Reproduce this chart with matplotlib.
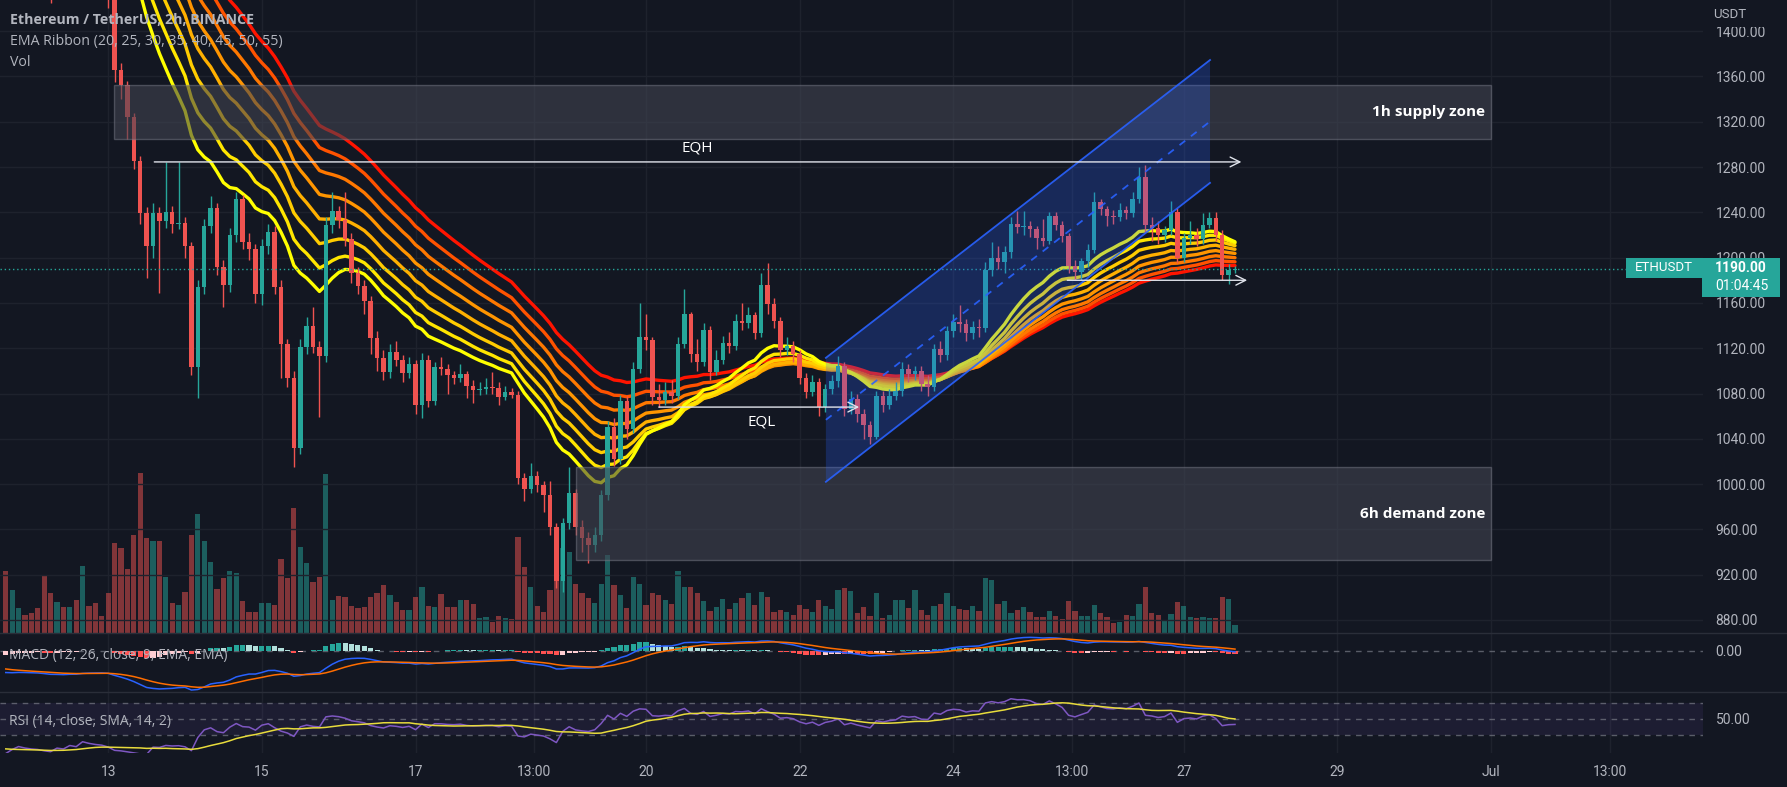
import matplotlib
matplotlib.use("Agg")
import matplotlib.pyplot as plt
from matplotlib.patches import Rectangle, Polygon
import numpy as np
import pandas as pd

plt.rcParams['font.family'] = ['Open Sans', 'DejaVu Sans']

BG = '#131722'
TXT = '#b2b5be'
GRID = '#1e222d'
UP = '#26a69a'
DOWN = '#ef5350'
W, H = 1787, 787

# 2h closes before the first visible bar, only used to warm up the indicators
warmup_close = [1862, 1870, 1875, 1868, 1880, 1872,
                1855, 1840, 1790, 1770, 1800, 1812, 1815, 1820, 1818,
                1808, 1800, 1795, 1790, 1802, 1798, 1785, 1776, 1782, 1790, 1795, 1792,
                1790, 1794, 1798, 1803, 1790, 1786, 1781, 1789, 1794, 1788, 1785, 1790,
                1792, 1788, 1778, 1768, 1748, 1722, 1702, 1690, 1682, 1668, 1664, 1660,
                1655, 1642, 1630, 1618, 1606, 1590, 1578, 1565]

# visible ETHUSDT 2h bars, first bar = index -16 (Jun 11 16:00), index 0 = Jun 13 00:00
close = [1552, 1560, 1566, 1548, 1535, 1527, 1505, 1487, 1495, 1482, 1490, 1476, 1488, 1472, 1460, 1452,
         1428, 1366, 1352, 1324, 1285, 1239, 1210, 1239, 1232, 1240,
         1230, 1231, 1210, 1103, 1174, 1228, 1244, 1192, 1176, 1220,
         1252, 1214, 1208, 1168, 1210, 1223, 1174, 1124, 1094, 1032,
         1121, 1140, 1121, 1113, 1229, 1241, 1233, 1216, 1186, 1175,
         1162, 1129, 1111, 1099, 1117, 1110, 1098, 1106, 1070, 1110,
         1073, 1103, 1102, 1096, 1094, 1097, 1087, 1083, 1084, 1086,
         1085, 1077, 1081, 1079, 1005, 996, 1007, 999, 990, 962,
         914, 966, 992, 962, 952, 946, 955, 990, 1050, 1022,
         1073, 1049, 1102, 1130, 1127, 1077, 1074, 1081, 1078, 1124,
         1150, 1115, 1108, 1136, 1099, 1110, 1125, 1122, 1144, 1142,
         1149, 1133, 1176, 1159, 1144, 1118, 1122, 1115, 1094, 1081,
         1090, 1068, 1084, 1091, 1104, 1066, 1075, 1062, 1052, 1042,
         1078, 1070, 1078, 1082, 1102, 1097, 1100, 1088, 1086, 1119,
         1114, 1135, 1143, 1141, 1133, 1139, 1138, 1189, 1200, 1196,
         1205, 1230, 1227, 1228, 1225, 1217, 1215, 1237, 1229, 1219,
         1193, 1187, 1197, 1207, 1249, 1243, 1237, 1236, 1242, 1239,
         1252, 1271, 1229, 1226, 1220, 1224, 1240, 1200, 1217, 1220,
         1216, 1229, 1235, 1220, 1185, 1189, 1190]

high = [1568, 1566, 1572, 1570, 1552, 1540, 1530, 1508, 1500, 1498, 1494, 1492, 1495, 1490, 1476, 1464,
        1456, 1432, 1372, 1356, 1328, 1290, 1245, 1248, 1245, 1284,
        1246, 1284, 1236, 1214, 1180, 1234, 1254, 1248, 1198, 1226,
        1258, 1255, 1222, 1212, 1216, 1230, 1228, 1180, 1128, 1100,
        1128, 1148, 1156, 1126, 1236, 1258, 1246, 1258, 1222, 1192,
        1180, 1166, 1135, 1118, 1124, 1126, 1114, 1112, 1110, 1116,
        1114, 1108, 1112, 1106, 1100, 1106, 1100, 1092, 1090, 1094,
        1099, 1090, 1087, 1085, 1082, 1010, 1019, 1012, 1003, 1003,
        966, 970, 1015, 996, 968, 958, 962, 995, 1056, 1058,
        1079, 1078, 1108, 1160, 1150, 1130, 1088, 1090, 1092, 1130,
        1172, 1152, 1128, 1142, 1140, 1118, 1131, 1134, 1150, 1160,
        1156, 1152, 1186, 1195, 1164, 1148, 1130, 1126, 1118, 1098,
        1096, 1094, 1088, 1096, 1113, 1108, 1082, 1080, 1066, 1056,
        1082, 1082, 1084, 1090, 1108, 1106, 1104, 1104, 1096, 1124,
        1126, 1140, 1150, 1158, 1146, 1144, 1146, 1196, 1214, 1210,
        1210, 1236, 1241, 1241, 1232, 1228, 1234, 1240, 1240, 1232,
        1222, 1198, 1200, 1212, 1258, 1252, 1246, 1242, 1248, 1246,
        1258, 1280, 1282, 1236, 1232, 1228, 1250, 1244, 1222, 1232,
        1226, 1239, 1240, 1240, 1224, 1194, 1193]

low = [1545, 1548, 1555, 1542, 1528, 1520, 1498, 1425, 1478, 1475, 1478, 1470, 1465, 1468, 1455, 1445,
       1420, 1355, 1340, 1305, 1278, 1230, 1182, 1200, 1169, 1226,
       1222, 1225, 1200, 1096, 1076, 1168, 1222, 1185, 1156, 1170,
       1214, 1208, 1198, 1160, 1158, 1203, 1168, 1094, 1086, 1015,
       1027, 1115, 1116, 1059, 1108, 1222, 1226, 1210, 1178, 1168,
       1150, 1115, 1100, 1092, 1094, 1104, 1090, 1094, 1062, 1058,
       1068, 1070, 1096, 1080, 1088, 1090, 1076, 1072, 1079, 1080,
       1080, 1070, 1074, 1076, 1000, 985, 992, 993, 975, 955,
       908, 905, 960, 955, 940, 930, 940, 950, 986, 1016,
       1018, 1040, 1045, 1098, 1118, 1070, 1068, 1070, 1072, 1075,
       1120, 1108, 1100, 1104, 1092, 1096, 1106, 1116, 1118, 1136,
       1138, 1128, 1130, 1150, 1138, 1112, 1114, 1108, 1088, 1076,
       1078, 1060, 1064, 1080, 1086, 1060, 1062, 1055, 1040, 1035,
       1040, 1064, 1066, 1074, 1078, 1090, 1092, 1082, 1078, 1082,
       1108, 1110, 1130, 1134, 1126, 1128, 1130, 1134, 1184, 1190,
       1186, 1200, 1222, 1220, 1218, 1208, 1210, 1212, 1224, 1214,
       1186, 1180, 1180, 1192, 1204, 1238, 1228, 1230, 1232, 1234,
       1236, 1248, 1222, 1215, 1212, 1214, 1220, 1195, 1196, 1212,
       1210, 1212, 1226, 1215, 1180, 1177, 1186]

# volume, thousand ETH
volume = [62, 43, 25, 18, 20, 25, 57, 40, 31, 26, 26, 33, 67, 27, 30, 17,
          40, 90, 85, 64, 98, 160, 95, 92, 92, 56,
          30, 28, 41, 98, 119, 92, 71, 44, 55, 62,
          60, 32, 21, 21, 30, 30, 28, 74, 55, 125,
          86, 70, 51, 56, 159, 33, 37, 36, 27, 25,
          26, 36, 40, 48, 38, 31, 23, 23, 36, 46,
          27, 26, 39, 26, 26, 33, 33, 29, 15, 16,
          11, 17, 15, 14, 96, 66, 46, 27, 21, 43,
          100, 85, 81, 49, 40, 35, 30, 49, 78, 48,
          38, 25, 56, 49, 28, 40, 38, 33, 29, 62,
          46, 46, 40, 32, 22, 26, 34, 24, 30, 35,
          40, 28, 41, 36, 21, 23, 21, 18, 28, 24,
          21, 33, 27, 24, 43, 45, 42, 20, 26, 17,
          40, 15, 18, 33, 33, 25, 43, 23, 18, 27,
          29, 40, 27, 24, 23, 27, 22, 55, 53, 29,
          32, 20, 23, 26, 21, 16, 16, 22, 17, 14,
          32, 22, 17, 17, 28, 20, 16, 10, 11, 18,
          17, 29, 46, 20, 18, 12, 19, 31, 27, 16,
          15, 16, 15, 15, 36, 34, 8]

ema_lengths = [20, 25, 30, 35, 40, 45, 50, 55]
ema_colors = ['#ffff00', '#ffe600', '#ffcc00', '#ffb000', '#ff9500', '#ff7800', '#ff5200', '#ff1400']

date_ticks = [0, 24, 48, 66.5, 84, 108, 132, 150.5, 168, 192, 216, 234.5]
date_labels = ['13', '15', '17', '13:00', '20', '22', '24', '13:00', '27', '29', 'Jul', '13:00']
price_ticks = list(range(880, 1401, 40))

# drawings: (first bar, last bar, bottom price, top price)
supply_zone = (0.9, 216, 1305, 1352.5)
demand_zone = (73.1, 216, 933, 1015)
eqh = (7.2, 177, 1284.5)
eql = (86, 117.3, 1068)
low_ray = (149.8, 177.9, 1180)
channel_x = (112.1, 172.1)
channel_upper = (1111.5, 1374.5)
channel_lower = (1002, 1266)
last_price = 1190.0

# ---------------------------------------------------------------- indicators
x = np.arange(len(close)) - 16
nw = len(warmup_close)
allc = pd.Series(warmup_close + close, dtype=float)
c = np.array(close, float)
o = np.array([warmup_close[-1]] + close[:-1], float)
hi = np.array(high, float)
lo = np.array(low, float)
is_up = c >= o
col = np.where(is_up, UP, DOWN)

emas = [allc.ewm(span=L, adjust=False).mean().values[nw:] for L in ema_lengths]

macd = allc.ewm(span=12, adjust=False).mean() - allc.ewm(span=26, adjust=False).mean()
signal = macd.ewm(span=9, adjust=False).mean()
hist = macd - signal
prev = hist.shift(1)
hcol = np.where(hist >= 0, np.where(hist > prev, '#26a69a', '#b2dfdb'),
                np.where(hist > prev, '#ffcdd2', '#ff5252'))[nw:]
macd, signal, hist = macd.values[nw:], signal.values[nw:], hist.values[nw:]

d = allc.diff()
up_rma = d.clip(lower=0).ewm(alpha=1 / 14, adjust=False).mean()
dn_rma = (-d.clip(upper=0)).ewm(alpha=1 / 14, adjust=False).mean()
rsi = 100 - 100 / (1 + up_rma / dn_rma)
rsi_ma = rsi.rolling(14).mean()
rsi, rsi_ma = rsi.values[nw:], rsi_ma.values[nw:]

# ---------------------------------------------------------------- figure
fig = plt.figure(figsize=(W / 100, H / 100), dpi=100, facecolor=BG)


def box(x0, y0, x1, y1):
    return [x0 / W, 1 - y1 / H, (x1 - x0) / W, (y1 - y0) / H]


ax_vol = fig.add_axes(box(0, 0, 1703, 633))
ax = fig.add_axes(box(0, 0, 1703, 633), sharex=ax_vol)
ax_macd = fig.add_axes(box(0, 633, 1703, 692), sharex=ax_vol)
ax_rsi = fig.add_axes(box(0, 692, 1703, 753), sharex=ax_vol)

for a in (ax_vol, ax, ax_macd, ax_rsi):
    for s in a.spines.values():
        s.set_visible(False)
    a.set_facecolor(BG)
    a.tick_params(axis='x', bottom=False, labelbottom=False)
    a.tick_params(axis='y', left=False, labelleft=False, right=False, labelright=False)
ax.patch.set_visible(False)
ax_vol.set_xlim(-16.9, 249.1)

for a in (ax_vol, ax_macd, ax_rsi):
    for t in date_ticks:
        a.axvline(t, color=GRID, lw=1, zorder=0)

# volume
ax_vol.bar(x, volume, width=0.82, color=col, alpha=0.5, linewidth=0, zorder=1)
ax_vol.set_ylim(0, max(volume) / 0.253)
ax_vol.set_yticks([])

# price pane
ax.set_ylim(868.5, 1427.5)
for p in price_ticks:
    ax.axhline(p, color=GRID, lw=1, zorder=0)
ax.yaxis.tick_right()
ax.set_yticks(price_ticks)
ax.set_yticklabels([f'{p:.2f}' for p in price_ticks])
ax.tick_params(axis='y', right=False, labelright=True, length=0, pad=9,
               labelcolor=TXT, labelsize=10, labelfontfamily='Roboto')

for e, cl in zip(emas[::-1], ema_colors[::-1]):
    ax.plot(x, e, color=cl, lw=2.4, zorder=2, solid_capstyle='round')

ax.vlines(x, lo, hi, colors=col, lw=1, zorder=3)
ax.bar(x, np.maximum(np.abs(c - o), 0.8), bottom=np.minimum(o, c), width=0.7,
       color=col, linewidth=0, zorder=3)

ax.axhline(last_price, color=UP, ls=(0, (1, 2)), lw=1, zorder=3)

for (zx0, zx1, z0, z1), label in ((supply_zone, '1h supply zone'), (demand_zone, '6h demand zone')):
    ax.add_patch(Rectangle((zx0, z0), zx1 - zx0, z1 - z0,
                           facecolor=(0.26, 0.27, 0.32, 0.58), edgecolor=(0.47, 0.48, 0.53, 0.5),
                           lw=1, zorder=4))
    ax.text(zx1 - 0.9, (z0 + z1) / 2, label, color='white', fontsize=11,
            fontweight='bold', ha='right', va='center', zorder=6)

# channel
cx0, cx1 = channel_x
ax.add_patch(Polygon([(cx0, channel_lower[0]), (cx0, channel_upper[0]),
                      (cx1, channel_upper[1]), (cx1, channel_lower[1])],
                     closed=True, facecolor=(0.16, 0.38, 1.0, 0.25), edgecolor='none', zorder=5))
ax.plot(channel_x, channel_upper, color='#2962ff', lw=1.3, alpha=0.9, zorder=5)
ax.plot(channel_x, channel_lower, color='#2962ff', lw=1.3, alpha=0.9, zorder=5)
ax.plot(channel_x, [(u + l) / 2 for u, l in zip(channel_upper, channel_lower)],
        color='#2962ff', lw=1.3, alpha=0.9, ls=(0, (4, 4)), zorder=5)

arrow = dict(arrowstyle='->,head_length=0.7,head_width=0.35', color='#e0e3eb', lw=1,
             shrinkA=0, shrinkB=0)
for x0, x1, yv in (eqh, eql, low_ray):
    ax.annotate('', xy=(x1, yv), xytext=(x0, yv), arrowprops=arrow, zorder=6)
ax.text(92, eqh[2] + 12, 'EQH', color='white', fontsize=11, ha='center', va='center', zorder=6)
ax.text(102, eql[2] - 13, 'EQL', color='white', fontsize=11, ha='center', va='center', zorder=6)

# MACD pane
ax_macd.axhline(0, color='#787b86', lw=1, ls=(0, (4, 4)), alpha=0.7, zorder=1)
ax_macd.bar(x, hist, width=0.8, color=hcol, linewidth=0, zorder=2)
ax_macd.plot(x, macd, color='#2962ff', lw=1.1, zorder=3)
ax_macd.plot(x, signal, color='#ff6d00', lw=1.1, zorder=3)
vals = np.concatenate([macd, signal, hist])
m_lo = min(vals.min(), -vals.max() * 41 / 18) * 1.05
ax_macd.set_ylim(m_lo, -m_lo * 18 / 41)
ax_macd.yaxis.tick_right()
ax_macd.set_yticks([0])
ax_macd.set_yticklabels(['0.00'])
ax_macd.tick_params(axis='y', right=False, labelright=True, length=0, pad=9,
                    labelcolor=TXT, labelsize=10, labelfontfamily='Roboto')

# RSI pane
ax_rsi.set_ylim(7.5, 83.75)
ax_rsi.axhspan(30, 70, color='#7e57c2', alpha=0.1, lw=0, zorder=0)
for lv in (30, 50, 70):
    ax_rsi.axhline(lv, color='#787b86', lw=1, ls=(0, (4, 4)), alpha=0.7, zorder=1)
ax_rsi.plot(x, rsi, color='#7e57c2', lw=1.1, zorder=3)
ax_rsi.plot(x, rsi_ma, color='#e8dc3c', lw=1.1, zorder=3)
ax_rsi.yaxis.tick_right()
ax_rsi.set_yticks([50])
ax_rsi.set_yticklabels(['50.00'])
ax_rsi.tick_params(axis='y', right=False, labelright=True, length=0, pad=9,
                   labelcolor=TXT, labelsize=10, labelfontfamily='Roboto')
ax_rsi.set_xticks(date_ticks)
ax_rsi.set_xticklabels(date_labels)
ax_rsi.tick_params(axis='x', bottom=True, labelbottom=True, length=0, pad=9,
                   labelcolor=TXT, labelsize=10, labelfontfamily='Roboto')

# ---------------------------------------------------------------- overlay (pixel coords)
ov = fig.add_axes([0, 0, 1, 1], zorder=10)
ov.set_xlim(0, W)
ov.set_ylim(H, 0)
ov.axis('off')
ov.patch.set_visible(False)

for yy in (633, 692):
    ov.plot([0, W], [yy, yy], color='#2a2e39', lw=1)

ov.text(10, 20, 'Ethereum / TetherUS, 2h, BINANCE', color=TXT, fontsize=10.2,
        fontweight='bold', va='center')
ov.text(10, 42, 'EMA Ribbon (20, 25, 30, 35, 40, 45, 50, 55)', color=TXT, fontsize=10.2, va='center')
ov.text(10, 63, 'Vol', color=TXT, fontsize=10.2, va='center')
ov.text(9, 656, 'MACD (12, 26, close, 9, EMA, EMA)', color=TXT, fontsize=10, va='center')
ov.text(9, 721, 'RSI (14, close, SMA, 14, 2)', color=TXT, fontsize=10, va='center')

ov.add_patch(Rectangle((1704, 0), W - 1704, 27, facecolor=BG, edgecolor='none'))
ov.text(1713, 15, 'USDT', color=TXT, fontsize=9.5, va='center', family='Roboto')

y_last = H - ax.transData.transform((0, last_price))[1]
ov.add_patch(Rectangle((1626, y_last - 11), 76, 20, facecolor=UP, edgecolor='none'))
ov.add_patch(Rectangle((1702, y_last - 11), 78, 39, facecolor=UP, edgecolor='none', zorder=2))
ov.text(1664, y_last - 1, 'ETHUSDT', color='white', fontsize=9.5, ha='center', va='center',
        family='Roboto')
ov.text(1715, y_last - 1, f'{last_price:.2f}', color='white', fontsize=10, fontweight='bold',
        va='center', family='Roboto', zorder=3)
ov.text(1715, y_last + 17, '01:04:45', color='white', fontsize=10, va='center',
        family='Roboto', zorder=3)

fig.savefig('out.png', dpi=100, facecolor=BG)
